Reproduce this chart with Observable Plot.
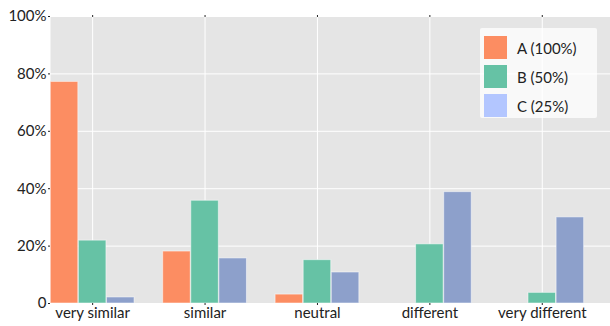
<!DOCTYPE html>
<html>
<head>
<meta charset="utf-8">
<script src="https://cdn.jsdelivr.net/npm/d3@7"></script>
<script src="https://cdn.jsdelivr.net/npm/@observablehq/plot@0.6"></script>
<style>
  html, body { margin: 0; padding: 0; background: #fff; }
  #wrap { position: relative; width: 610px; height: 326px; font-family: Lato, "Open Sans", sans-serif; }
  #legend { position: absolute; left: 480px; top: 28px; width: 117px; height: 90px;
            background: rgba(255,255,255,0.78); border-radius: 2px; box-sizing: border-box; padding: 5px 0 0 4px; }
  .item { display: flex; align-items: center; height: 29px; font-size: 15px; color: #222; }
  .sw { width: 23px; height: 23px; margin-right: 10px; }
</style>
</head>
<body>
<div id="wrap"><div id="legend"></div></div>
<script>
const categories = ["very similar", "similar", "neutral", "different", "very different"];
const seriesNames = ["A (100%)", "B (50%)", "C (25%)"];
const valuesA = [77.2, 18.1, 3.1, 0, 0];
const valuesB = [21.9, 35.8, 15.1, 20.6, 3.7];
const valuesC = [2.1, 15.7, 10.8, 38.8, 30.0];
const yTicks = [0, 20, 40, 60, 80, 100];

const barColors = ["#fc8d62", "#66c2a5", "#8da0cb"];
const legendColors = ["#fc8d62", "#66c2a5", "#b3c6ff"];
const barOffset = 0.25, barHalf = 0.1225;

const seriesValues = [valuesA, valuesB, valuesC];
const data = categories.flatMap((c, i) => seriesValues.map((vals, j) => ({cat: c, i, j, series: seriesNames[j], value: vals[i]})));
const catIdx = categories.map((c, i) => i);

const chart = Plot.plot({
  width: 610,
  height: 326,
  marginLeft: 50,
  marginRight: 0,
  marginTop: 16,
  marginBottom: 23,
  style: {fontFamily: "Lato, 'Open Sans', sans-serif", fontSize: "15px", color: "#222", background: "transparent"},
  x: {domain: [-0.375, 4.607], label: null},
  y: {domain: [0, 100], label: null},
  marks: [
    Plot.frame({fill: "#e5e5e5", stroke: null}),
    Plot.gridY(yTicks, {stroke: "white", strokeOpacity: 1, strokeWidth: 1}),
    Plot.gridX(catIdx, {stroke: "white", strokeOpacity: 1, strokeWidth: 1}),
    Plot.rectY(data, {
      x1: d => d.i + (d.j - 1) * barOffset - barHalf,
      x2: d => d.i + (d.j - 1) * barOffset + barHalf,
      y1: 0,
      y2: d => d.value,
      fill: d => barColors[d.j],
      stroke: "white",
      strokeOpacity: 0.5,
      strokeWidth: 1
    }),
    Plot.axisY(yTicks, {tickFormat: d => d === 0 ? "0" : d + "%", tickSize: 2, tickPadding: 2, fontSize: 15, stroke: "#222"}),
    Plot.axisX(catIdx, {anchor: "bottom", tickFormat: i => categories[i], tickSize: 2, tickPadding: 2, fontSize: 15, stroke: "#222"}),
    Plot.axisX(catIdx, {anchor: "top", tickFormat: () => "", tickSize: 2, stroke: "#222"})
  ]
});
document.getElementById("wrap").prepend(chart);

const legend = document.getElementById("legend");
seriesNames.forEach((name, j) => {
  const item = document.createElement("div");
  item.className = "item";
  const sw = document.createElement("div");
  sw.className = "sw";
  sw.style.background = legendColors[j];
  const label = document.createElement("span");
  label.textContent = name;
  item.append(sw, label);
  legend.append(item);
});
</script>
</body>
</html>
